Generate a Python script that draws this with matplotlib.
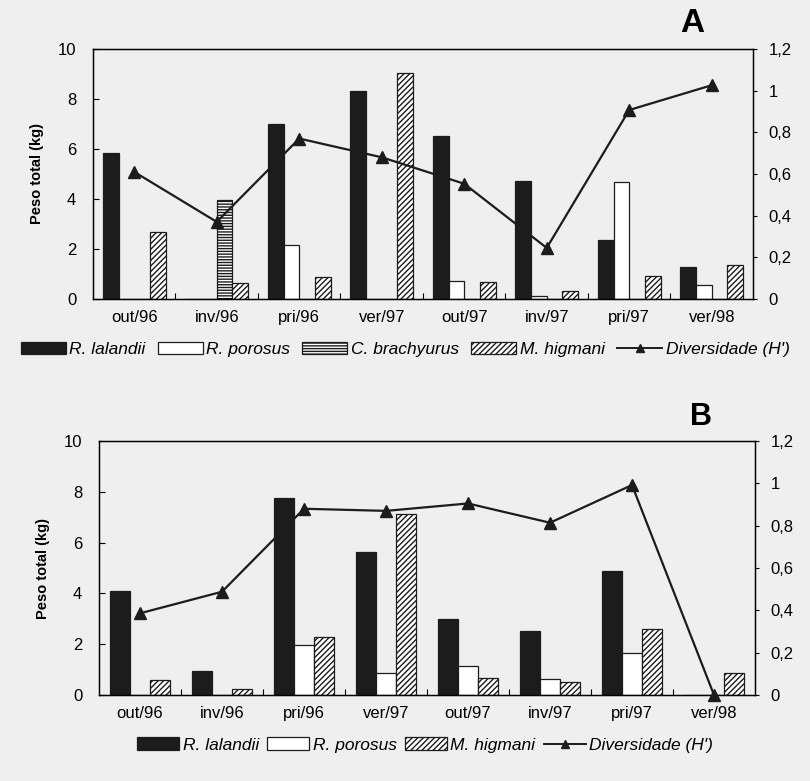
import numpy as np
import matplotlib.pyplot as plt
from matplotlib.patches import Patch
from matplotlib.lines import Line2D
from matplotlib.ticker import FixedLocator

plt.rcParams['font.family'] = ['Liberation Sans', 'DejaVu Sans']
plt.rcParams['hatch.linewidth'] = 1.0

seasons = ['out/96', 'inv/96', 'pri/96', 'ver/97', 'out/97', 'inv/97', 'pri/97', 'ver/98']

# panel A - peso total (kg)
a_lalandii = [5.85, 0.0, 7.0, 8.3, 6.52, 4.73, 2.36, 1.29]
a_porosus = [0.0, 0.0, 2.16, 0.0, 0.73, 0.13, 4.69, 0.56]
a_brachyurus = [0.0, 3.96, 0.0, 0.0, 0.0, 0.0, 0.0, 0.0]
a_higmani = [2.69, 0.63, 0.87, 9.03, 0.67, 0.3, 0.92, 1.35]
a_diversidade = [0.61, 0.37, 0.77, 0.68, 0.553, 0.245, 0.907, 1.026]

# panel B
b_lalandii = [4.08, 0.96, 7.74, 5.64, 2.99, 2.53, 4.9, 0.0]
b_porosus = [0.0, 0.0, 1.97, 0.85, 1.15, 0.63, 1.64, 0.0]
b_higmani = [0.6, 0.24, 2.27, 7.13, 0.68, 0.5, 2.6, 0.87]
b_diversidade = [0.386, 0.488, 0.88, 0.87, 0.905, 0.814, 0.992, 0.0]

BG = '#efefef'
DARK = '#1c1c1c'
STYLES = {
    'R. lalandii': dict(facecolor=DARK, edgecolor=DARK),
    'R. porosus': dict(facecolor='white', edgecolor=DARK),
    'C. brachyurus': dict(facecolor='white', edgecolor=DARK, hatch='------'),
    'M. higmani': dict(facecolor='white', edgecolor=DARK, hatch='//////'),
}


def comma(v):
    s = ('%.1f' % v).rstrip('0').rstrip('.')
    return s.replace('.', ',')


def panel(ax, series, div, width):
    x = np.arange(len(seasons))
    n = len(series)
    for i, (name, vals) in enumerate(series):
        off = (i - (n - 1) / 2) * width
        ax.bar(x + off, vals, width, linewidth=0.9, **STYLES[name])
    ax.set_xlim(-0.5, len(seasons) - 0.5)
    ax.set_ylim(0, 10)
    ax.set_yticks(range(0, 11, 2))
    ax.set_xticks(x)
    ax.set_xticklabels(seasons, fontsize=12)
    ax.xaxis.set_minor_locator(FixedLocator(np.arange(0.5, len(seasons) - 1, 1)))
    ax.tick_params(axis='x', which='major', length=0, pad=8)
    ax.tick_params(axis='x', which='minor', direction='in', length=4, width=0.8)
    ax.tick_params(axis='y', direction='in', length=4, width=0.8, labelsize=12, pad=12)
    ax.set_ylabel('Peso total (kg)', fontsize=10.5, fontweight='bold', labelpad=10)
    ax.set_facecolor(BG)
    for s in ax.spines.values():
        s.set_linewidth(1.0)

    ax2 = ax.twinx()
    ax2.plot(x, div, color=DARK, lw=1.6, marker='^', markersize=8, clip_on=False, zorder=5)
    ax2.set_ylim(0, 1.2)
    yt = [0, 0.2, 0.4, 0.6, 0.8, 1.0, 1.2]
    ax2.set_yticks(yt)
    ax2.set_yticklabels([comma(v) for v in yt])
    ax2.tick_params(axis='y', direction='out', length=3, width=0.8, labelsize=12, pad=8)
    return ax2


def legend_handles(names):
    h = [Patch(label=n, linewidth=0.9, **STYLES[n]) for n in names]
    h.append(Line2D([], [], color=DARK, lw=1.4, marker='^', markersize=6,
                    label="Diversidade (H')"))
    return h


fig = plt.figure(figsize=(8.1, 7.81), dpi=100, facecolor=BG)

axA = fig.add_axes([0.1148, 0.6172, 0.8148, 0.3201])
panel(axA, [('R. lalandii', a_lalandii), ('R. porosus', a_porosus),
            ('C. brachyurus', a_brachyurus), ('M. higmani', a_higmani)],
      a_diversidade, 0.19)

axB = fig.add_axes([0.1222, 0.1101, 0.8099, 0.3252])
panel(axB, [('R. lalandii', b_lalandii), ('R. porosus', b_porosus),
            ('M. higmani', b_higmani)],
      b_diversidade, 0.24)

leg_font = dict(style='italic', size=12.5)
fig.legend(handles=legend_handles(['R. lalandii', 'R. porosus', 'C. brachyurus', 'M. higmani']),
           loc='center', bbox_to_anchor=(0.5, 0.552), ncol=5, frameon=False,
           prop=leg_font, handlelength=2.6, handleheight=0.7, handletextpad=0.2,
           columnspacing=0.7)
fig.legend(handles=legend_handles(['R. lalandii', 'R. porosus', 'M. higmani']),
           loc='center', bbox_to_anchor=(0.525, 0.046), ncol=4, frameon=False,
           prop=leg_font, handlelength=2.4, handleheight=0.7, handletextpad=0.2,
           columnspacing=0.5)

fig.text(0.854, 0.970, 'A', fontsize=24, fontweight='bold', ha='center', va='center')
fig.text(0.866, 0.466, 'B', fontsize=22, fontweight='bold', ha='center', va='center')

fig.savefig('out.png', dpi=100, facecolor=BG)
